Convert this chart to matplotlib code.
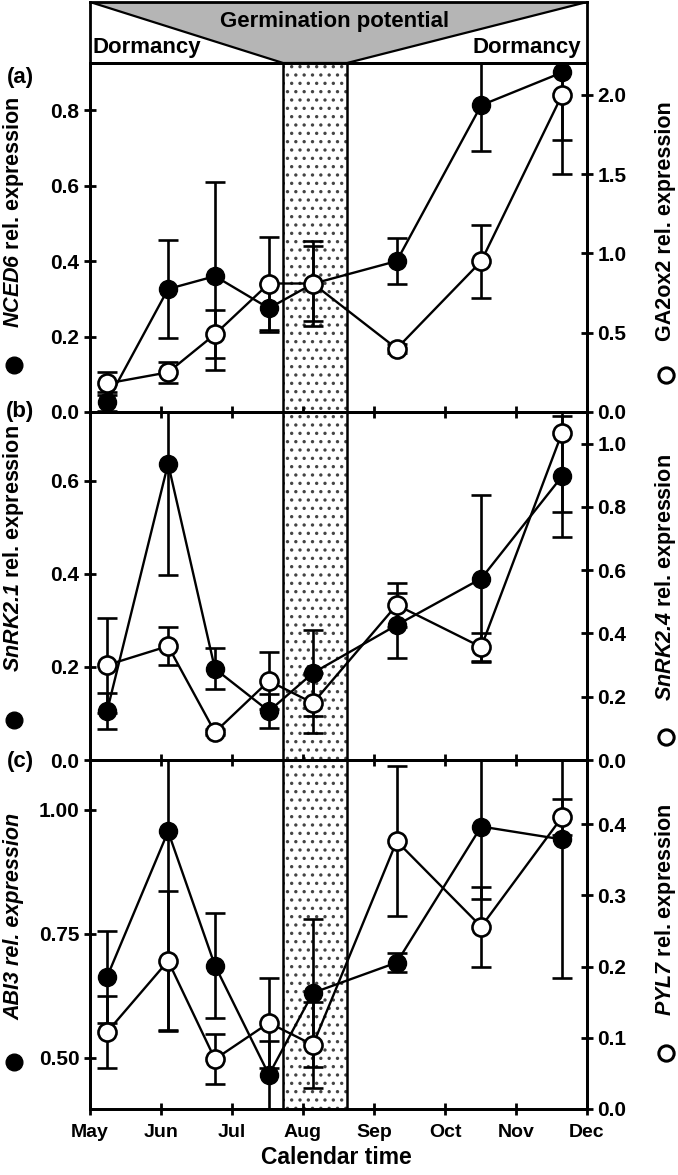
import matplotlib
matplotlib.use("Agg")
import matplotlib.pyplot as plt
from matplotlib.ticker import FormatStrFormatter
from matplotlib.patches import Polygon
from matplotlib.lines import Line2D

plt.rcParams['font.family'] = ['Liberation Sans', 'DejaVu Sans']
plt.rcParams['font.weight'] = 'bold'
plt.rcParams['mathtext.fontset'] = 'custom'
plt.rcParams['mathtext.it'] = 'Liberation Sans:italic:bold'
plt.rcParams['mathtext.rm'] = 'Liberation Sans:italic:bold'
plt.rcParams['hatch.linewidth'] = 1.2

months = ['May', 'Jun', 'Jul', 'Aug', 'Sep', 'Oct', 'Nov', 'Dec']
# sampling dates, in months after 1 May
t = [0.24, 1.10, 1.76, 2.52, 3.14, 4.32, 5.51, 6.65]
germ_window = (2.72, 3.62)

# (a)
nced6 = [0.027, 0.326, 0.36, 0.275, 0.34, 0.40, 0.813, 0.90]
nced6_err = [0.025, 0.13, 0.25, 0.064, 0.10, 0.06, 0.12, 0.18]
ga2ox2 = [0.18, 0.25, 0.49, 0.81, 0.81, 0.40, 0.95, 2.0]
ga2ox2_err = [0.07, 0.065, 0.15, 0.29, 0.27, 0.03, 0.23, 0.5]
# (b)
snrk21 = [0.105, 0.637, 0.196, 0.105, 0.187, 0.29, 0.39, 0.61]
snrk21_err = [0.038, 0.24, 0.044, 0.037, 0.093, 0.07, 0.18, 0.13]
snrk24 = [0.30, 0.36, 0.088, 0.25, 0.18, 0.49, 0.357, 1.035]
snrk24_err = [0.15, 0.06, 0.01, 0.09, 0.095, 0.07, 0.045, 0.25]
# (c)
abi3 = [0.663, 0.956, 0.686, 0.466, 0.631, 0.692, 0.966, 0.94]
abi3_err = [0.093, 0.40, 0.106, 0.068, 0.149, 0.02, 0.145, 0.28]
pyl7 = [0.108, 0.208, 0.07, 0.121, 0.09, 0.376, 0.256, 0.41]
pyl7_err = [0.05, 0.098, 0.035, 0.063, 0.06, 0.105, 0.056, 0.025]

W, H = 678.0, 1175.0
L, R = 90 / W, 587 / W

fig = plt.figure(figsize=(6.78, 11.75), dpi=100)

# header box
axh = fig.add_axes([L, 1 - 63 / H, R - L, 61 / H])
axh.set_xlim(0, 7)
axh.set_ylim(0, 1)
axh.set_xticks([])
axh.set_yticks([])
for s in axh.spines.values():
    s.set_linewidth(2)
axh.add_patch(Polygon([(0, 1), (germ_window[0], 0), (germ_window[1], 0), (7, 1)],
                      closed=True, facecolor='#b5b5b5', edgecolor='k', lw=1.6))
axh.text(3.45, 0.68, 'Germination potential', ha='center', va='center', fontsize=16)
axh.text(0.03, 0.25, 'Dormancy', ha='left', va='center', fontsize=16)
axh.text(6.92, 0.25, 'Dormancy', ha='right', va='center', fontsize=16)

panels = [
    # top, bottom px, filled, err, open, err, left lim, right lim, left ticks, right ticks, fmt, labels
    (63, 412, nced6, nced6_err, ga2ox2, ga2ox2_err, (0, 0.925), (0, 2.2),
     [0, 0.2, 0.4, 0.6, 0.8], [0, 0.5, 1.0, 1.5, 2.0], '%.1f',
     r'$\mathit{NCED6}$ rel. expression', 'GA2ox2 rel. expression', '(a)'),
    (412, 760, snrk21, snrk21_err, snrk24, snrk24_err, (0, 0.748), (0, 1.1),
     [0, 0.2, 0.4, 0.6], [0, 0.2, 0.4, 0.6, 0.8, 1.0], '%.1f',
     r'$\mathit{SnRK2.1}$ rel. expression', r'$\mathit{SnRK2.4}$ rel. expression', '(b)'),
    (760, 1109, abi3, abi3_err, pyl7, pyl7_err, (0.397, 1.10), (0, 0.49),
     [0.5, 0.75, 1.0], [0, 0.1, 0.2, 0.3, 0.4], '%.2f',
     'ABI3 rel. expression', r'$\mathit{PYL7}$ rel. expression', '(c)'),
]
label_pos = [
    # left text y, left dot y, right text y, right dot y, letter y
    (212, 365, 221, 375, 77),
    (549, 720, 578, 737, 412),
    (916, 1062, 910, 1053, 762),
]

for i, p in enumerate(panels):
    top, bot, yf, ef, yo, eo, llim, rlim, lt, rt, fmt, llab, rlab, letter = p
    ax = fig.add_axes([L, 1 - bot / H, R - L, (bot - top) / H])
    ax.patch.set_visible(False)
    ax.axvspan(*germ_window, facecolor='white', edgecolor='#444444', hatch='..', lw=0, zorder=0)
    ax.axvline(germ_window[0], color='k', lw=1.8, zorder=1)
    ax.axvline(germ_window[1], color='k', lw=1.8, zorder=1)
    ax.errorbar(t, yf, yerr=ef, fmt='none', ecolor='k', elinewidth=1.9,
                capsize=7, capthick=1.9, zorder=2)
    ax.plot(t, yf, '-o', color='k', ms=13, lw=1.7, clip_on=False, zorder=3)
    ax.set_xlim(0, 7)
    ax.set_ylim(*llim)
    ax.set_yticks(lt)
    ax.yaxis.set_major_formatter(FormatStrFormatter(fmt))
    ax.set_xticks(range(8))
    if i < 2:
        ax.tick_params(axis='x', labelbottom=False)
    else:
        ax.set_xticklabels(months)
    ax.tick_params(direction='inout', length=9, width=2, labelsize=15, pad=3)
    ax.tick_params(axis='x', labelsize=14, pad=6)
    for s in ax.spines.values():
        s.set_linewidth(2)

    ax2 = ax.twinx()
    ax2.patch.set_visible(False)
    ax2.errorbar(t, yo, yerr=eo, fmt='none', ecolor='k', elinewidth=1.9,
                 capsize=7, capthick=1.9, zorder=2)
    ax2.plot(t, yo, '-o', color='k', mfc='white', mec='k', mew=1.9, ms=13, lw=1.7,
             clip_on=False, zorder=3)
    ax2.set_ylim(*rlim)
    ax2.set_yticks(rt)
    ax2.yaxis.set_major_formatter(FormatStrFormatter('%.1f'))
    ax2.tick_params(direction='inout', length=9, width=2, labelsize=15, pad=3)
    for s in ax2.spines.values():
        s.set_linewidth(2)

    ly, ldot, ry, rdot, lety = label_pos[i]
    fig.text(14 / W, 1 - ly / H, llab, rotation=90, ha='center', va='center', fontsize=15.5,
             fontstyle='italic' if i == 2 else 'normal')
    fig.add_artist(Line2D([14 / W], [1 - ldot / H], transform=fig.transFigure,
                          marker='o', ms=12, color='k'))
    fig.text(666 / W, 1 - ry / H, rlab, rotation=90, ha='center', va='center', fontsize=15.5)
    fig.add_artist(Line2D([666 / W], [1 - rdot / H], transform=fig.transFigure,
                          marker='o', ms=11, mfc='white', mec='k', mew=2.2))
    fig.text(20 / W, 1 - lety / H, letter, ha='center', va='center', fontsize=16)

fig.text(336 / W, 1 - 1158 / H, 'Calendar time', ha='center', va='center', fontsize=16.5)

fig.savefig('out.png', dpi=100)
